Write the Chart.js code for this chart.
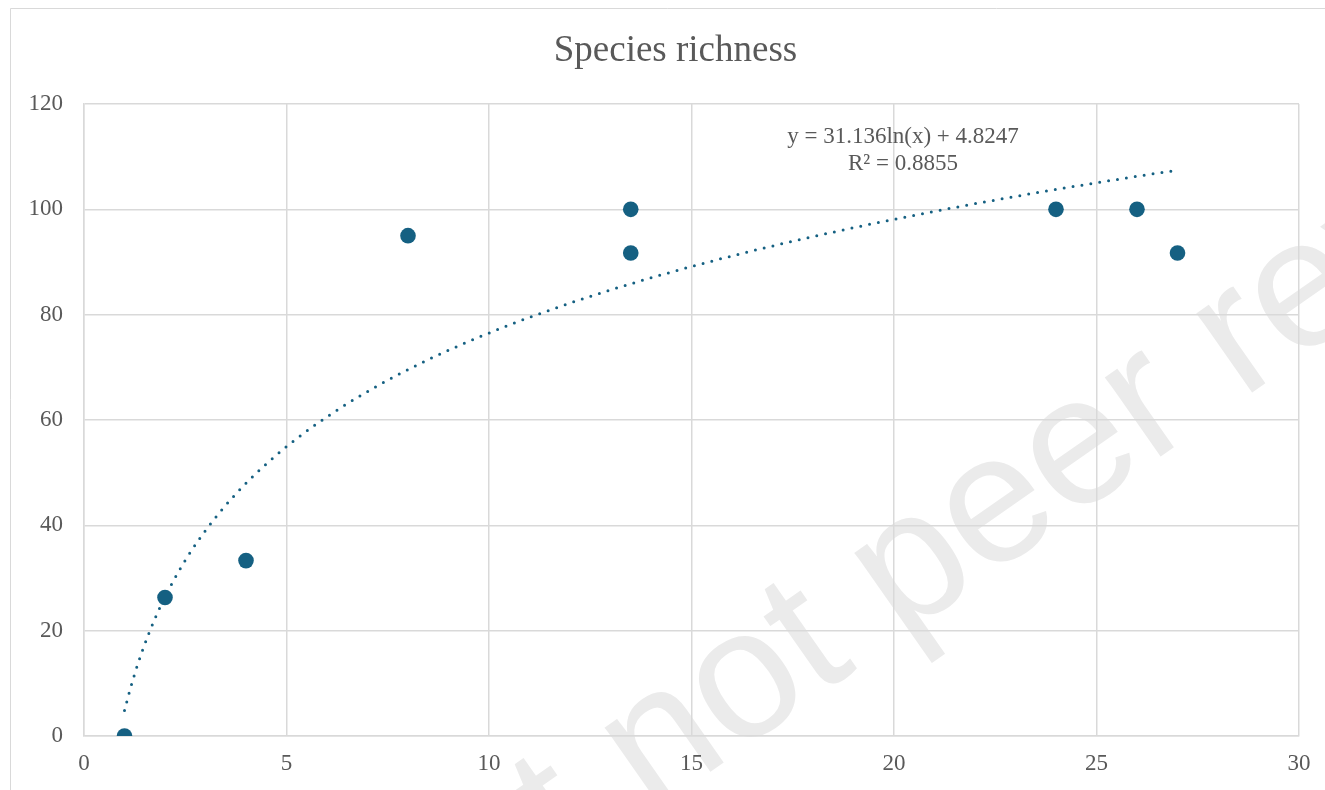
<!DOCTYPE html>
<html lang="en">
<head>
    <meta charset="UTF-8">
    <title>Species richness</title>
    <script src="https://cdn.jsdelivr.net/npm/chart.js"></script>
    <style>
        body { margin: 0; background-color: #ffffff; overflow: hidden; }
        canvas { display: block; }
    </style>
</head>
<body>
    <canvas id="grafico" width="1325" height="790"></canvas>

    <script>
        // Observed points
        const xValues = [1, 2, 4, 8, 13.5, 13.5, 24, 26, 27];
        const richness = [0, 26.3, 33.3, 95, 100, 91.7, 100, 100, 91.7];

        // Logarithmic trendline, y = a ln(x) + b
        const trendSlope = 31.136;
        const trendIntercept = 4.8247;
        const trendR2 = 0.8855;

        const titleText = 'Species richness';
        const watermarkText = 'Preprint not peer reviewed';

        const serif = '"Liberation Serif", "Times New Roman", serif';
        const textColor = '#595959';
        const pointColor = '#156082';
        const gridColor = '#d9d9d9';

        const puntos = xValues.map((x, i) => ({ x: x, y: richness[i] }));

        // sample the trendline over the range of the data
        const xMin = Math.min(...xValues);
        const xMax = Math.max(...xValues);
        const tendencia = [];
        for (let x = xMin; x <= xMax + 1e-9; x += 0.1) {
            tendencia.push({ x: x, y: trendSlope * Math.log(x) + trendIntercept });
        }

        const fondo = {
            id: 'fondo',
            beforeDraw(chart) {
                const ctx = chart.ctx;
                ctx.save();
                ctx.fillStyle = '#ffffff';
                ctx.fillRect(0, 0, chart.width, chart.height);

                // outer frame
                ctx.strokeStyle = gridColor;
                ctx.lineWidth = 1;
                ctx.beginPath();
                ctx.moveTo(10.5, chart.height);
                ctx.lineTo(10.5, 8.5);
                ctx.lineTo(chart.width, 8.5);
                ctx.stroke();

                // diagonal watermark
                ctx.font = '183px "Liberation Sans", Arial, sans-serif';
                ctx.fillStyle = '#ebebeb';
                const offset = ctx.measureText('Preprint ').width;
                ctx.translate(650, 814);
                ctx.rotate(-35 * Math.PI / 180);
                ctx.textBaseline = 'alphabetic';
                ctx.textAlign = 'left';
                ctx.fillText(watermarkText, -offset, 0);
                ctx.restore();

                // title
                ctx.save();
                ctx.font = '37px ' + serif;
                ctx.fillStyle = textColor;
                ctx.textAlign = 'center';
                ctx.textBaseline = 'middle';
                ctx.fillText(titleText, 675.5, 51);
                ctx.restore();
            },
            afterDatasetsDraw(chart) {
                const ctx = chart.ctx;
                ctx.save();
                ctx.font = '23px ' + serif;
                ctx.fillStyle = textColor;
                ctx.textAlign = 'center';
                ctx.textBaseline = 'middle';
                ctx.fillText(`y = ${trendSlope}ln(x) + ${trendIntercept}`, 903, 137);
                ctx.fillText(`R² = ${trendR2}`, 903, 164);
                ctx.restore();
            }
        };

        const ctx = document.getElementById('grafico').getContext('2d');
        new Chart(ctx, {
            type: 'scatter',
            data: {
                datasets: [
                    {
                        label: 'Species richness',
                        data: puntos,
                        backgroundColor: pointColor,
                        borderWidth: 0,
                        pointRadius: 7.8,
                    },
                    {
                        label: 'Log. trendline',
                        data: tendencia,
                        showLine: true,
                        pointRadius: 0,
                        borderColor: pointColor,
                        borderWidth: 3,
                        borderDash: [0, 9],
                        borderCapStyle: 'round',
                        tension: 0,
                    }
                ]
            },
            options: {
                responsive: false,
                animation: false,
                layout: { padding: { top: 104, right: 26, bottom: 0, left: 0 } },
                plugins: {
                    legend: { display: false },
                    tooltip: { enabled: false },
                    title: { display: false },
                },
                scales: {
                    x: {
                        type: 'linear',
                        min: 0,
                        max: 30,
                        ticks: { stepSize: 5, padding: 14, color: textColor, font: { family: serif, size: 23 } },
                        grid: { color: gridColor, lineWidth: 1.5, drawTicks: false },
                        border: { color: gridColor, width: 1.5 },
                        afterFit(scale) { scale.height = 54; },
                    },
                    y: {
                        min: 0,
                        max: 120,
                        ticks: { stepSize: 20, padding: 21, color: textColor, font: { family: serif, size: 23 } },
                        grid: { color: gridColor, lineWidth: 1.5, drawTicks: false },
                        border: { color: gridColor, width: 1.5 },
                        afterFit(scale) { scale.width = 84; },
                    }
                }
            },
            plugins: [fondo]
        });
    </script>
</body>
</html>
